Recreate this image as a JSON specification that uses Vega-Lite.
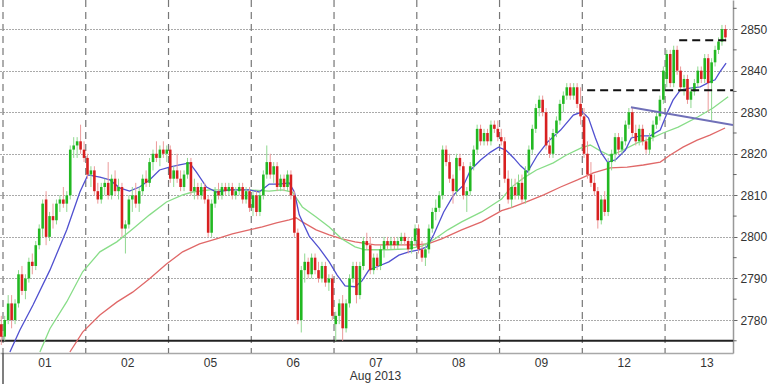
{
"$schema":"https://vega.github.io/schema/vega-lite/v6.json",
"width":733,"height":353,"padding":{"left":0,"top":0,"right":35,"bottom":31},"autosize":{"type":"none"},"background":"white",
"config":{"view":{"stroke":null},"font":"Liberation Sans","scale":{"continuousPadding":0},
 "axisX":{"grid":false,"ticks":false,"tickSize":0,"domainColor":"#a8a8a8","domainWidth":1.5,"labelPadding":13,"labelBaseline":"alphabetic","labelFontSize":12,"labelColor":"#333","labelFlush":false,"labelOverlap":false,"titleFontSize":12,"titleFontWeight":"normal","titleColor":"#333"},
 "axisY":{"grid":true,"gridDash":[1,2],"gridColor":"#555","gridWidth":1,"domainColor":"#999","domainWidth":1.5,"tickColor":"#666","tickSize":4,"labelPadding":3,"labelFontSize":12,"labelColor":"#333","labelFlush":false,"labelOverlap":false}},
"datasets":{
"days":[{"b":-0.5},{"b":23.5},{"b":47.5},{"b":71.5},{"b":95.5},{"b":119.5},{"b":143.5},{"b":167.5},{"b":191.5}],
"mtick":[{"b":-0.5,"y1":2772.06,"y2":2764.6}],
"minor":[{"v":2775},{"v":2785},{"v":2795},{"v":2805},{"v":2815},{"v":2825},{"v":2835},{"v":2845},{"v":2855}],
"base":[{"v":2775}],
"trend":[{"i":181.6,"v":2831.2},{"i":211.2,"v":2826.9}],
"levels":[{"x1":168.9,"x2":211.2,"y":2835.3},{"x1":195.6,"x2":209.5,"y":2847.3}],
"ma":[
{"m":"1r","i":18.9,"v":2772.3},{"m":"1r","i":22.6,"v":2777.1},{"m":"1r","i":27.6,"v":2781.2},{"m":"1r","i":32.5,"v":2784.3},{"m":"1r","i":37.1,"v":2786.7},{"m":"1r","i":42.0,"v":2789.9},{"m":"1r","i":46.9,"v":2793.5},{"m":"1r","i":51.6,"v":2796.4},{"m":"1r","i":56.5,"v":2798.3},{"m":"1r","i":61.4,"v":2799.5},{"m":"1r","i":66.0,"v":2800.7},{"m":"1r","i":70.9,"v":2801.7},{"m":"1r","i":74.7,"v":2802.4},{"m":"1r","i":78.8,"v":2803.4},{"m":"1r","i":82.5,"v":2804.1},{"m":"1r","i":84.5,"v":2804.6},{"m":"1r","i":86.3,"v":2803.6},{"m":"1r","i":90.3,"v":2801.7},{"m":"1r","i":94.1,"v":2800.5},{"m":"1r","i":97.8,"v":2799.5},{"m":"1r","i":101.6,"v":2798.8},{"m":"1r","i":107.4,"v":2798.1},{"m":"1r","i":113.2,"v":2798.1},{"m":"1r","i":119.0,"v":2798.1},{"m":"1r","i":122.7,"v":2798.3},{"m":"1r","i":126.7,"v":2799.5},{"m":"1r","i":132.5,"v":2801.7},{"m":"1r","i":138.3,"v":2803.6},{"m":"1r","i":144.1,"v":2806.3},{"m":"1r","i":146.7,"v":2807.0},{"m":"1r","i":151.3,"v":2808.4},{"m":"1r","i":156.3,"v":2810.1},{"m":"1r","i":161.2,"v":2812.0},{"m":"1r","i":166.1,"v":2813.7},{"m":"1r","i":170.7,"v":2815.4},{"m":"1r","i":175.6,"v":2816.6},{"m":"1r","i":180.5,"v":2816.8},{"m":"1r","i":185.2,"v":2817.3},{"m":"1r","i":190.1,"v":2818.0},{"m":"1r","i":193.0,"v":2819.7},{"m":"1r","i":196.7,"v":2821.6},{"m":"1r","i":200.8,"v":2823.3},{"m":"1r","i":204.5,"v":2824.5},{"m":"1r","i":208.9,"v":2826.2},
{"m":"2g","i":10.2,"v":2772.3},{"m":"2g","i":13.1,"v":2777.9},{"m":"2g","i":18.0,"v":2784.4},{"m":"2g","i":22.6,"v":2791.6},{"m":"2g","i":27.6,"v":2796.4},{"m":"2g","i":32.5,"v":2798.8},{"m":"2g","i":37.1,"v":2801.9},{"m":"2g","i":42.0,"v":2805.3},{"m":"2g","i":46.9,"v":2808.4},{"m":"2g","i":51.6,"v":2810.1},{"m":"2g","i":54.5,"v":2810.8},{"m":"2g","i":59.4,"v":2811.3},{"m":"2g","i":65.2,"v":2811.3},{"m":"2g","i":70.9,"v":2811.3},{"m":"2g","i":76.7,"v":2811.0},{"m":"2g","i":80.5,"v":2811.3},{"m":"2g","i":83.4,"v":2810.8},{"m":"2g","i":86.3,"v":2807.2},{"m":"2g","i":90.3,"v":2804.8},{"m":"2g","i":94.1,"v":2802.4},{"m":"2g","i":97.8,"v":2799.5},{"m":"2g","i":101.6,"v":2797.6},{"m":"2g","i":104.5,"v":2796.9},{"m":"2g","i":111.1,"v":2796.9},{"m":"2g","i":116.9,"v":2797.1},{"m":"2g","i":121.0,"v":2797.8},{"m":"2g","i":124.7,"v":2799.5},{"m":"2g","i":128.5,"v":2801.7},{"m":"2g","i":132.5,"v":2803.6},{"m":"2g","i":138.3,"v":2806.0},{"m":"2g","i":144.1,"v":2809.1},{"m":"2g","i":146.7,"v":2811.8},{"m":"2g","i":150.5,"v":2814.2},{"m":"2g","i":154.2,"v":2816.1},{"m":"2g","i":159.1,"v":2817.8},{"m":"2g","i":162.9,"v":2819.7},{"m":"2g","i":167.2,"v":2821.4},{"m":"2g","i":169.8,"v":2822.1},{"m":"2g","i":172.7,"v":2820.7},{"m":"2g","i":175.6,"v":2819.5},{"m":"2g","i":179.4,"v":2820.9},{"m":"2g","i":183.4,"v":2822.6},{"m":"2g","i":187.2,"v":2823.6},{"m":"2g","i":190.9,"v":2825.0},{"m":"2g","i":195.3,"v":2826.4},{"m":"2g","i":201.1,"v":2828.9},{"m":"2g","i":205.4,"v":2831.0},{"m":"2g","i":209.8,"v":2833.7},
{"m":"3b","i":1.5,"v":2772.3},{"m":"3b","i":4.4,"v":2777.6},{"m":"3b","i":8.2,"v":2783.6},{"m":"3b","i":13.1,"v":2792.0},{"m":"3b","i":18.0,"v":2801.7},{"m":"3b","i":21.8,"v":2810.8},{"m":"3b","i":24.1,"v":2814.9},{"m":"3b","i":27.6,"v":2814.4},{"m":"3b","i":30.5,"v":2813.7},{"m":"3b","i":33.3,"v":2811.8},{"m":"3b","i":36.2,"v":2811.0},{"m":"3b","i":39.1,"v":2812.0},{"m":"3b","i":42.0,"v":2813.7},{"m":"3b","i":44.9,"v":2816.1},{"m":"3b","i":47.8,"v":2816.8},{"m":"3b","i":50.7,"v":2817.3},{"m":"3b","i":53.6,"v":2817.8},{"m":"3b","i":55.6,"v":2815.6},{"m":"3b","i":58.5,"v":2812.0},{"m":"3b","i":61.4,"v":2810.8},{"m":"3b","i":65.2,"v":2811.3},{"m":"3b","i":68.0,"v":2811.3},{"m":"3b","i":70.9,"v":2811.3},{"m":"3b","i":73.8,"v":2810.8},{"m":"3b","i":76.7,"v":2812.7},{"m":"3b","i":79.6,"v":2812.7},{"m":"3b","i":82.5,"v":2813.0},{"m":"3b","i":84.0,"v":2810.8},{"m":"3b","i":85.4,"v":2805.3},{"m":"3b","i":88.3,"v":2800.2},{"m":"3b","i":91.2,"v":2797.3},{"m":"3b","i":94.1,"v":2794.0},{"m":"3b","i":96.4,"v":2790.8},{"m":"3b","i":98.7,"v":2788.2},{"m":"3b","i":101.6,"v":2788.0},{"m":"3b","i":103.6,"v":2789.4},{"m":"3b","i":105.6,"v":2792.0},{"m":"3b","i":108.5,"v":2793.0},{"m":"3b","i":111.4,"v":2794.0},{"m":"3b","i":114.3,"v":2795.6},{"m":"3b","i":117.2,"v":2796.4},{"m":"3b","i":120.1,"v":2796.9},{"m":"3b","i":122.4,"v":2797.6},{"m":"3b","i":124.4,"v":2800.5},{"m":"3b","i":127.3,"v":2806.0},{"m":"3b","i":130.2,"v":2810.1},{"m":"3b","i":133.1,"v":2812.5},{"m":"3b","i":135.1,"v":2816.1},{"m":"3b","i":138.0,"v":2818.5},{"m":"3b","i":140.9,"v":2820.4},{"m":"3b","i":143.2,"v":2821.6},{"m":"3b","i":145.3,"v":2820.9},{"m":"3b","i":147.6,"v":2819.0},{"m":"3b","i":149.6,"v":2817.1},{"m":"3b","i":151.6,"v":2815.6},{"m":"3b","i":154.5,"v":2819.7},{"m":"3b","i":157.4,"v":2822.8},{"m":"3b","i":161.2,"v":2825.7},{"m":"3b","i":164.9,"v":2829.3},{"m":"3b","i":167.5,"v":2830.1},{"m":"3b","i":169.3,"v":2828.6},{"m":"3b","i":171.3,"v":2823.8},{"m":"3b","i":173.0,"v":2820.2},{"m":"3b","i":174.8,"v":2818.0},{"m":"3b","i":177.1,"v":2818.5},{"m":"3b","i":180.0,"v":2820.9},{"m":"3b","i":181.7,"v":2823.8},{"m":"3b","i":184.3,"v":2824.3},{"m":"3b","i":187.2,"v":2824.3},{"m":"3b","i":190.1,"v":2825.7},{"m":"3b","i":192.1,"v":2829.8},{"m":"3b","i":193.8,"v":2832.9},{"m":"3b","i":195.9,"v":2835.3},{"m":"3b","i":198.8,"v":2835.8},{"m":"3b","i":201.7,"v":2836.1},{"m":"3b","i":204.5,"v":2837.3},{"m":"3b","i":206.0,"v":2837.8},{"m":"3b","i":207.4,"v":2839.7},{"m":"3b","i":209.2,"v":2841.8}
],
"candles":[
{"i":-1,"o":2779,"h":2781,"l":2774,"c":2776},
{"i":0,"o":2776,"h":2781,"l":2775,"c":2780},{"i":1,"o":2780,"h":2786,"l":2779,"c":2784},{"i":2,"o":2784,"h":2786,"l":2778,"c":2780},{"i":3,"o":2780,"h":2785,"l":2779,"c":2784},{"i":4,"o":2784,"h":2792,"l":2783,"c":2791},{"i":5,"o":2791,"h":2793,"l":2786,"c":2787},{"i":6,"o":2787,"h":2791,"l":2785,"c":2790},{"i":7,"o":2790,"h":2795,"l":2789,"c":2794},{"i":8,"o":2794,"h":2796,"l":2791,"c":2793},{"i":9,"o":2793,"h":2799,"l":2792,"c":2798},{"i":10,"o":2798,"h":2803,"l":2797,"c":2802},{"i":11,"o":2802,"h":2809,"l":2800,"c":2808},{"i":12,"o":2809,"h":2811,"l":2798,"c":2800},{"i":13,"o":2800,"h":2806,"l":2799,"c":2805},{"i":14,"o":2805,"h":2808,"l":2802,"c":2804},{"i":15,"o":2804,"h":2809,"l":2803,"c":2808},{"i":16,"o":2808,"h":2810,"l":2806,"c":2809},{"i":17,"o":2809,"h":2812,"l":2807,"c":2808},{"i":18,"o":2808,"h":2811,"l":2806,"c":2810},{"i":19,"o":2810,"h":2822,"l":2809,"c":2821},{"i":20,"o":2821,"h":2824,"l":2819,"c":2822},{"i":21,"o":2822,"h":2824,"l":2819,"c":2823},{"i":22,"o":2823,"h":2827,"l":2820,"c":2821},{"i":23,"o":2821,"h":2823,"l":2818,"c":2819},
{"i":24,"o":2819,"h":2820,"l":2814,"c":2815},{"i":25,"o":2815,"h":2817,"l":2812,"c":2816},{"i":26,"o":2816,"h":2817,"l":2810,"c":2811},{"i":27,"o":2811,"h":2813,"l":2808,"c":2809},{"i":28,"o":2809,"h":2813,"l":2808,"c":2812},{"i":29,"o":2812,"h":2814,"l":2810,"c":2813},{"i":30,"o":2813,"h":2818,"l":2809,"c":2810},{"i":31,"o":2810,"h":2815,"l":2809,"c":2814},{"i":32,"o":2814,"h":2816,"l":2810,"c":2811},{"i":33,"o":2811,"h":2814,"l":2809,"c":2812},{"i":34,"o":2812,"h":2813,"l":2800,"c":2802},{"i":35,"o":2802,"h":2804,"l":2796,"c":2803},{"i":36,"o":2803,"h":2810,"l":2802,"c":2809},{"i":37,"o":2809,"h":2812,"l":2806,"c":2810},{"i":38,"o":2810,"h":2813,"l":2807,"c":2808},{"i":39,"o":2808,"h":2812,"l":2806,"c":2811},{"i":40,"o":2811,"h":2815,"l":2810,"c":2814},{"i":41,"o":2814,"h":2816,"l":2812,"c":2813},{"i":42,"o":2813,"h":2819,"l":2812,"c":2818},{"i":43,"o":2818,"h":2821,"l":2816,"c":2820},{"i":44,"o":2820,"h":2823,"l":2818,"c":2819},{"i":45,"o":2819,"h":2822,"l":2817,"c":2821},{"i":46,"o":2821,"h":2823,"l":2819,"c":2820},{"i":47,"o":2820,"h":2822,"l":2818,"c":2821},
{"i":48,"o":2821,"h":2822,"l":2813,"c":2814},{"i":49,"o":2814,"h":2817,"l":2812,"c":2816},{"i":50,"o":2816,"h":2820,"l":2813,"c":2814},{"i":51,"o":2814,"h":2816,"l":2811,"c":2812},{"i":52,"o":2812,"h":2816,"l":2811,"c":2815},{"i":53,"o":2815,"h":2819,"l":2814,"c":2818},{"i":54,"o":2818,"h":2819,"l":2810,"c":2811},{"i":55,"o":2811,"h":2814,"l":2809,"c":2812},{"i":56,"o":2812,"h":2813,"l":2809,"c":2810},{"i":57,"o":2810,"h":2813,"l":2809,"c":2812},{"i":58,"o":2812,"h":2813,"l":2808,"c":2809},{"i":59,"o":2809,"h":2810,"l":2800,"c":2801},{"i":60,"o":2801,"h":2809,"l":2800,"c":2808},{"i":61,"o":2808,"h":2812,"l":2807,"c":2811},{"i":62,"o":2811,"h":2813,"l":2809,"c":2810},{"i":63,"o":2810,"h":2813,"l":2809,"c":2812},{"i":64,"o":2812,"h":2813,"l":2810,"c":2811},{"i":65,"o":2811,"h":2813,"l":2810,"c":2812},{"i":66,"o":2812,"h":2813,"l":2809,"c":2810},{"i":67,"o":2810,"h":2812,"l":2809,"c":2811},{"i":68,"o":2811,"h":2813,"l":2810,"c":2812},{"i":69,"o":2812,"h":2813,"l":2808,"c":2809},{"i":70,"o":2809,"h":2812,"l":2808,"c":2811},{"i":71,"o":2811,"h":2812,"l":2806,"c":2807},
{"i":72,"o":2807,"h":2811,"l":2805,"c":2810},{"i":73,"o":2810,"h":2811,"l":2805,"c":2806},{"i":74,"o":2806,"h":2811,"l":2805,"c":2810},{"i":75,"o":2810,"h":2816,"l":2809,"c":2815},{"i":76,"o":2815,"h":2822,"l":2814,"c":2818},{"i":77,"o":2818,"h":2820,"l":2814,"c":2815},{"i":78,"o":2815,"h":2818,"l":2813,"c":2817},{"i":79,"o":2817,"h":2818,"l":2811,"c":2812},{"i":80,"o":2812,"h":2815,"l":2811,"c":2814},{"i":81,"o":2814,"h":2815,"l":2811,"c":2812},{"i":82,"o":2812,"h":2816,"l":2811,"c":2815},{"i":83,"o":2815,"h":2816,"l":2809,"c":2810},{"i":84,"o":2810,"h":2811,"l":2800,"c":2801},{"i":85,"o":2801,"h":2802,"l":2779,"c":2780},{"i":86,"o":2780,"h":2793,"l":2777,"c":2792},{"i":87,"o":2792,"h":2796,"l":2789,"c":2794},{"i":88,"o":2794,"h":2795,"l":2790,"c":2791},{"i":89,"o":2791,"h":2796,"l":2790,"c":2795},{"i":90,"o":2795,"h":2796,"l":2791,"c":2792},{"i":91,"o":2792,"h":2794,"l":2789,"c":2790},{"i":92,"o":2790,"h":2794,"l":2789,"c":2793},{"i":93,"o":2793,"h":2794,"l":2788,"c":2789},{"i":94,"o":2789,"h":2791,"l":2787,"c":2790},{"i":95,"o":2790,"h":2791,"l":2780,"c":2781},
{"i":96,"o":2779,"h":2782,"l":2775,"c":2781},{"i":97,"o":2781,"h":2785,"l":2779,"c":2784},{"i":98,"o":2784,"h":2786,"l":2775,"c":2778},{"i":99,"o":2778,"h":2785,"l":2777,"c":2784},{"i":100,"o":2784,"h":2791,"l":2783,"c":2790},{"i":101,"o":2790,"h":2794,"l":2789,"c":2793},{"i":102,"o":2793,"h":2794,"l":2784,"c":2786},{"i":103,"o":2786,"h":2794,"l":2785,"c":2793},{"i":104,"o":2793,"h":2800,"l":2792,"c":2799},{"i":105,"o":2799,"h":2801,"l":2797,"c":2798},{"i":106,"o":2798,"h":2800,"l":2791,"c":2792},{"i":107,"o":2792,"h":2796,"l":2791,"c":2795},{"i":108,"o":2795,"h":2796,"l":2792,"c":2793},{"i":109,"o":2793,"h":2798,"l":2792,"c":2797},{"i":110,"o":2797,"h":2800,"l":2795,"c":2799},{"i":111,"o":2799,"h":2800,"l":2797,"c":2798},{"i":112,"o":2798,"h":2800,"l":2797,"c":2799},{"i":113,"o":2799,"h":2800,"l":2797,"c":2798},{"i":114,"o":2798,"h":2800,"l":2797,"c":2799},{"i":115,"o":2799,"h":2801,"l":2798,"c":2800},{"i":116,"o":2800,"h":2801,"l":2798,"c":2799},{"i":117,"o":2799,"h":2800,"l":2796,"c":2797},{"i":118,"o":2797,"h":2800,"l":2796,"c":2799},{"i":119,"o":2799,"h":2803,"l":2798,"c":2802},
{"i":120,"o":2802,"h":2803,"l":2796,"c":2797},{"i":121,"o":2797,"h":2799,"l":2794,"c":2795},{"i":122,"o":2795,"h":2798,"l":2793,"c":2797},{"i":123,"o":2797,"h":2803,"l":2796,"c":2802},{"i":124,"o":2802,"h":2807,"l":2801,"c":2806},{"i":125,"o":2806,"h":2809,"l":2804,"c":2807},{"i":126,"o":2807,"h":2811,"l":2806,"c":2810},{"i":127,"o":2810,"h":2822,"l":2809,"c":2821},{"i":128,"o":2821,"h":2822,"l":2817,"c":2818},{"i":129,"o":2818,"h":2820,"l":2813,"c":2814},{"i":130,"o":2814,"h":2815,"l":2808,"c":2811},{"i":131,"o":2811,"h":2820,"l":2810,"c":2819},{"i":132,"o":2819,"h":2820,"l":2816,"c":2817},{"i":133,"o":2817,"h":2818,"l":2809,"c":2810},{"i":134,"o":2810,"h":2812,"l":2806,"c":2811},{"i":135,"o":2811,"h":2818,"l":2810,"c":2817},{"i":136,"o":2817,"h":2822,"l":2816,"c":2821},{"i":137,"o":2821,"h":2827,"l":2820,"c":2826},{"i":138,"o":2826,"h":2827,"l":2822,"c":2823},{"i":139,"o":2823,"h":2826,"l":2822,"c":2825},{"i":140,"o":2825,"h":2826,"l":2822,"c":2823},{"i":141,"o":2823,"h":2828,"l":2822,"c":2827},{"i":142,"o":2827,"h":2828,"l":2825,"c":2826},{"i":143,"o":2826,"h":2828,"l":2823,"c":2824},
{"i":144,"o":2824,"h":2826,"l":2822,"c":2823},{"i":145,"o":2823,"h":2824,"l":2813,"c":2814},{"i":146,"o":2814,"h":2816,"l":2808,"c":2809},{"i":147,"o":2809,"h":2814,"l":2807,"c":2812},{"i":148,"o":2812,"h":2814,"l":2809,"c":2810},{"i":149,"o":2810,"h":2815,"l":2809,"c":2813},{"i":150,"o":2813,"h":2815,"l":2808,"c":2809},{"i":151,"o":2809,"h":2817,"l":2808,"c":2816},{"i":152,"o":2816,"h":2822,"l":2815,"c":2821},{"i":153,"o":2821,"h":2827,"l":2820,"c":2826},{"i":154,"o":2826,"h":2832,"l":2825,"c":2831},{"i":155,"o":2831,"h":2834,"l":2829,"c":2833},{"i":156,"o":2833,"h":2834,"l":2829,"c":2830},{"i":157,"o":2830,"h":2831,"l":2821,"c":2822},{"i":158,"o":2822,"h":2824,"l":2819,"c":2820},{"i":159,"o":2820,"h":2826,"l":2819,"c":2825},{"i":160,"o":2825,"h":2829,"l":2824,"c":2828},{"i":161,"o":2828,"h":2833,"l":2827,"c":2832},{"i":162,"o":2832,"h":2835,"l":2830,"c":2834},{"i":163,"o":2834,"h":2837,"l":2833,"c":2836},{"i":164,"o":2836,"h":2837,"l":2833,"c":2834},{"i":165,"o":2834,"h":2837,"l":2833,"c":2836},{"i":166,"o":2836,"h":2837,"l":2831,"c":2832},{"i":167,"o":2832,"h":2836,"l":2827,"c":2829},
{"i":168,"o":2829,"h":2831,"l":2819,"c":2820},{"i":169,"o":2820,"h":2823,"l":2814,"c":2815},{"i":170,"o":2815,"h":2818,"l":2812,"c":2813},{"i":171,"o":2813,"h":2815,"l":2810,"c":2811},{"i":172,"o":2811,"h":2812,"l":2802,"c":2804},{"i":173,"o":2804,"h":2810,"l":2803,"c":2809},{"i":174,"o":2809,"h":2811,"l":2805,"c":2806},{"i":175,"o":2806,"h":2819,"l":2805,"c":2818},{"i":176,"o":2818,"h":2821,"l":2816,"c":2820},{"i":177,"o":2820,"h":2825,"l":2818,"c":2824},{"i":178,"o":2824,"h":2825,"l":2820,"c":2821},{"i":179,"o":2821,"h":2824,"l":2820,"c":2823},{"i":180,"o":2823,"h":2828,"l":2822,"c":2827},{"i":181,"o":2827,"h":2831,"l":2826,"c":2830},{"i":182,"o":2830,"h":2831,"l":2824,"c":2825},{"i":183,"o":2825,"h":2827,"l":2822,"c":2823},{"i":184,"o":2823,"h":2827,"l":2822,"c":2826},{"i":185,"o":2826,"h":2827,"l":2822,"c":2823},{"i":186,"o":2823,"h":2824,"l":2820,"c":2821},{"i":187,"o":2821,"h":2825,"l":2820,"c":2824},{"i":188,"o":2824,"h":2828,"l":2823,"c":2827},{"i":189,"o":2827,"h":2830,"l":2826,"c":2829},{"i":190,"o":2829,"h":2834,"l":2828,"c":2833},{"i":191,"o":2833,"h":2841,"l":2832,"c":2840},
{"i":192,"o":2838,"h":2845,"l":2836,"c":2844},{"i":193,"o":2844,"h":2845,"l":2836,"c":2837},{"i":194,"o":2837,"h":2846,"l":2836,"c":2845},{"i":195,"o":2845,"h":2846,"l":2839,"c":2840},{"i":196,"o":2840,"h":2841,"l":2835,"c":2836},{"i":197,"o":2836,"h":2839,"l":2834,"c":2838},{"i":198,"o":2838,"h":2839,"l":2832,"c":2833},{"i":199,"o":2833,"h":2836,"l":2831,"c":2835},{"i":200,"o":2835,"h":2838,"l":2834,"c":2837},{"i":201,"o":2837,"h":2841,"l":2836,"c":2840},{"i":202,"o":2840,"h":2841,"l":2837,"c":2838},{"i":203,"o":2838,"h":2844,"l":2837,"c":2843},{"i":204,"o":2843,"h":2844,"l":2830,"c":2837},{"i":205,"o":2837,"h":2843,"l":2828,"c":2842},{"i":206,"o":2842,"h":2846,"l":2841,"c":2845},{"i":207,"o":2845,"h":2848,"l":2844,"c":2847},{"i":208,"o":2847,"h":2851,"l":2846,"c":2850},{"i":209,"o":2850,"h":2851,"l":2847,"c":2848}
]},
"layer":[
{"data":{"name":"days"},"mark":{"type":"rule","color":"#777","strokeDash":[7,5],"strokeWidth":1.2},
 "encoding":{"x":{"field":"b","type":"quantitative","scale":{"domain":[-1.37,211.2],"nice":false,"zero":false,"padding":0},
  "axis":{"values":[11.5,35.5,59.5,83.5,107.5,131.5,155.5,179.5,203.5],"labelExpr":"['01','02','05','06','07','08','09','12','13'][round((datum.value-11.5)/24)]","title":"Aug 2013","titleX":375,"titleY":26,"titleBaseline":"alphabetic","titleAlign":"center"}}}},
{"data":{"name":"base"},"mark":{"type":"rule","color":"#222","strokeWidth":2},
 "encoding":{"y":{"field":"v","type":"quantitative","scale":{"domain":[2772.06,2857],"nice":false,"zero":false,"padding":0},
  "axis":{"orient":"right","values":[2780,2790,2800,2810,2820,2830,2840,2850],"format":"d","title":null}}}},
{"data":{"name":"minor"},"mark":{"type":"rule","color":"#666","strokeWidth":1,"clip":false},
 "encoding":{"x":{"datum":211.2,"type":"quantitative","scale":{"domain":[-1.37,211.2],"nice":false,"zero":false,"padding":0}},"x2":{"datum":212.25},
  "y":{"field":"v","type":"quantitative","scale":{"domain":[2772.06,2857],"nice":false,"zero":false,"padding":0}}}},
{"data":{"name":"mtick"},"mark":{"type":"rule","color":"#555","strokeWidth":1.5},
 "encoding":{"x":{"field":"b","type":"quantitative","scale":{"domain":[-1.37,211.2],"nice":false,"zero":false,"padding":0}},
  "y":{"field":"y1","type":"quantitative","scale":{"domain":[2772.06,2857],"nice":false,"zero":false,"padding":0}},"y2":{"field":"y2"}}},
{"data":{"name":"ma"},"mark":{"type":"line","strokeWidth":1.3,"clip":true},
 "encoding":{"x":{"field":"i","type":"quantitative","scale":{"domain":[-1.37,211.2],"nice":false,"zero":false,"padding":0}},
  "y":{"field":"v","type":"quantitative","scale":{"domain":[2772.06,2857],"nice":false,"zero":false,"padding":0}},
  "color":{"field":"m","type":"nominal","scale":{"domain":["1r","2g","3b"],"range":["#e06868","#88dd88","#5050d0"]},"legend":null},
  "order":{"field":"i","type":"quantitative"}}},
{"data":{"name":"candles"},"mark":{"type":"rule","strokeWidth":1},
 "encoding":{"x":{"field":"i","type":"quantitative","scale":{"domain":[-1.37,211.2],"nice":false,"zero":false,"padding":0}},
  "y":{"field":"l","type":"quantitative","scale":{"domain":[2772.06,2857],"nice":false,"zero":false,"padding":0}},"y2":{"field":"h"},
  "color":{"condition":{"test":"datum.c >= datum.o","value":"#8fd88f"},"value":"#ec9a9a"}}},
{"data":{"name":"candles"},"mark":{"type":"bar","size":2.6},
 "encoding":{"x":{"field":"i","type":"quantitative","scale":{"domain":[-1.37,211.2],"nice":false,"zero":false,"padding":0}},
  "y":{"field":"o","type":"quantitative","scale":{"domain":[2772.06,2857],"nice":false,"zero":false,"padding":0}},"y2":{"field":"c"},
  "color":{"condition":{"test":"datum.c >= datum.o","value":"#22b822"},"value":"#d82020"}}},
{"data":{"name":"trend"},"mark":{"type":"line","color":"#7070b8","strokeWidth":2,"clip":true},
 "encoding":{"x":{"field":"i","type":"quantitative","scale":{"domain":[-1.37,211.2],"nice":false,"zero":false,"padding":0}},
  "y":{"field":"v","type":"quantitative","scale":{"domain":[2772.06,2857],"nice":false,"zero":false,"padding":0}}}},
{"data":{"name":"levels"},"mark":{"type":"rule","color":"#111","strokeWidth":2,"strokeDash":[8,5]},
 "encoding":{"x":{"field":"x1","type":"quantitative","scale":{"domain":[-1.37,211.2],"nice":false,"zero":false,"padding":0}},"x2":{"field":"x2"},
  "y":{"field":"y","type":"quantitative","scale":{"domain":[2772.06,2857],"nice":false,"zero":false,"padding":0}}}}
]
}
